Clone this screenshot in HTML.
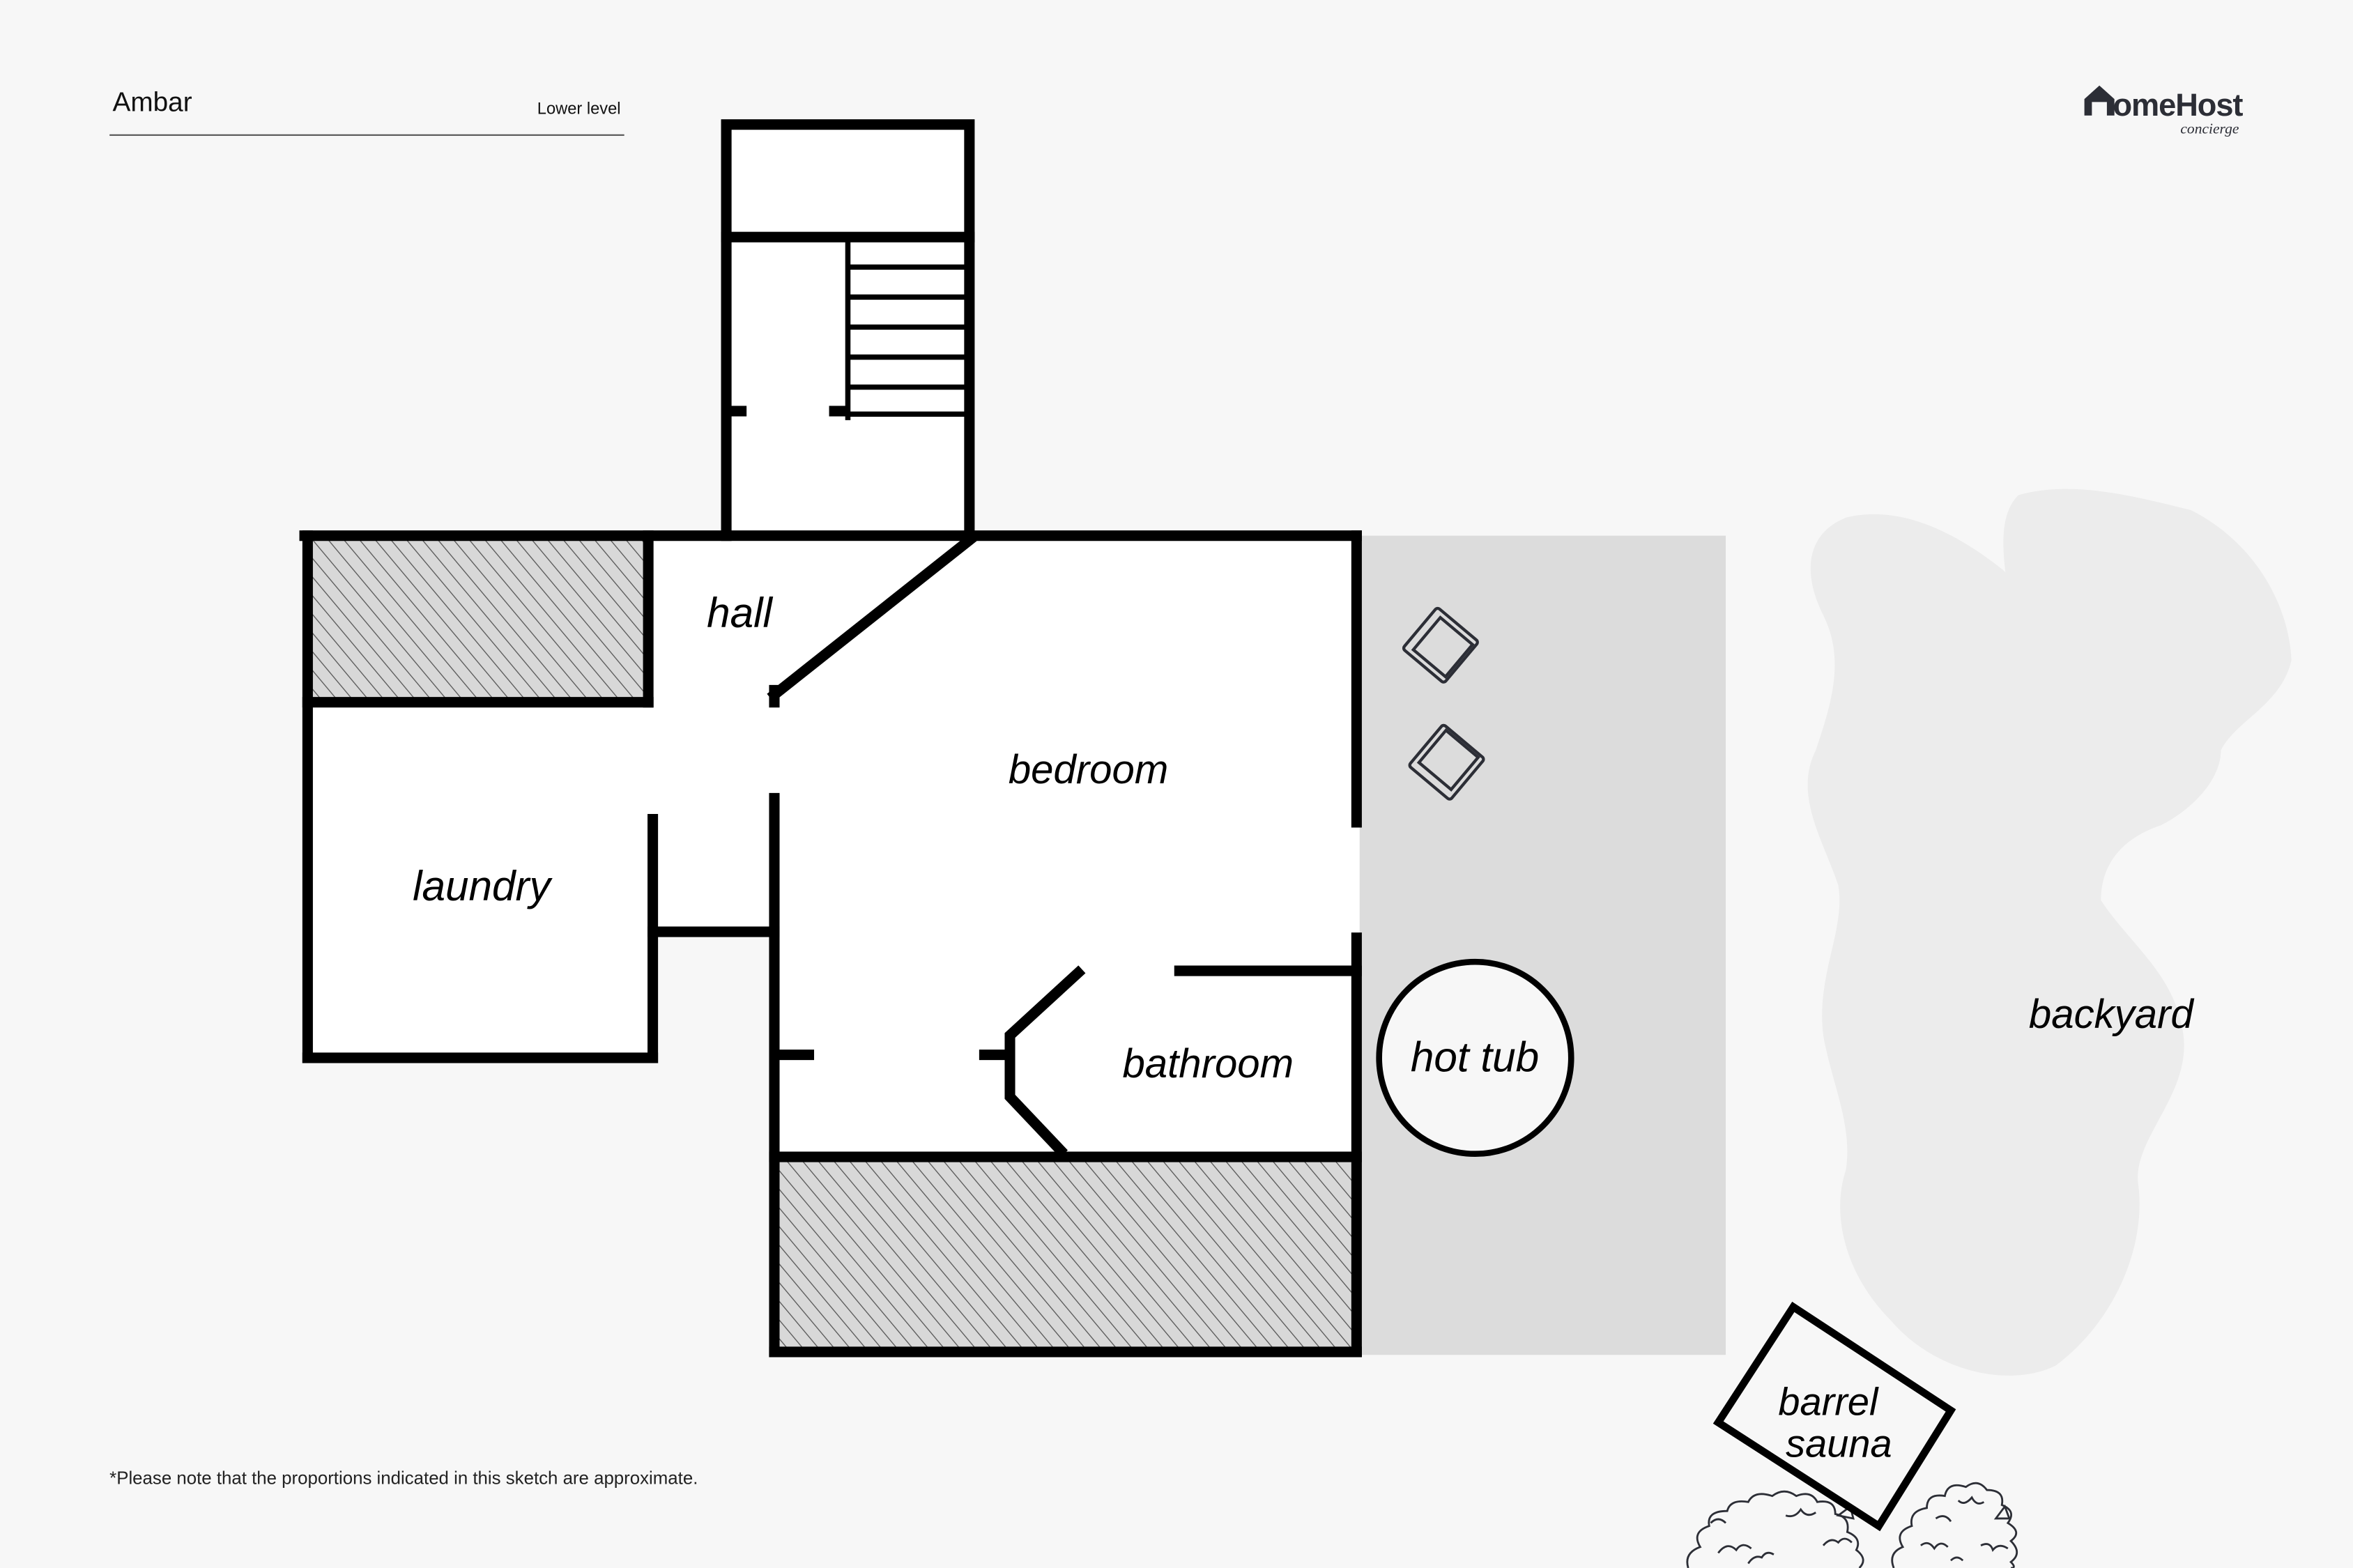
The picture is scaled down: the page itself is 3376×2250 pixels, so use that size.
<!DOCTYPE html>
<html><head><meta charset="utf-8"><style>
html,body{margin:0;padding:0;background:#f7f7f7;}
svg{display:block}
.hw{font-family:"Liberation Sans",sans-serif;font-style:italic;fill:#000;}
</style></head><body>
<svg width="3376" height="2250" viewBox="0 0 1568 1045" preserveAspectRatio="none" xmlns="http://www.w3.org/2000/svg">
<defs>
<pattern id="hatch" patternUnits="userSpaceOnUse" width="8" height="8" patternTransform="rotate(-40)">
<rect width="8" height="8" fill="#d8d8d8"/>
<line x1="0" y1="0" x2="0" y2="8" stroke="#555" stroke-width="1.2"/>
</pattern>
</defs>
<rect width="1568" height="1045" fill="#f7f7f7"/>
<text x="75" y="74" font-family="Liberation Sans,sans-serif" font-size="18" fill="#111">Ambar</text>
<text x="358" y="76" font-family="Liberation Sans,sans-serif" font-size="11" fill="#111">Lower level</text>
<line x1="73" y1="90" x2="416" y2="90" stroke="#555" stroke-width="1"/>
<text x="73" y="989" font-family="Liberation Sans,sans-serif" font-size="12" fill="#222">*Please note that the proportions indicated in this sketch are approximate.</text>
<path d="M1389 66 L1399 57 L1409 66 L1409 77 L1404 77 L1404 68 L1394 68 L1394 77 L1389 77 Z" fill="#2c2e36"/>
<text x="1408" y="77" font-family="Liberation Sans,sans-serif" font-size="21" font-weight="bold" fill="#2c2e36" letter-spacing="-0.5">omeHost</text>
<text x="1453" y="89" font-family="Liberation Serif,serif" font-style="italic" font-size="10" fill="#2c2e36">concierge</text>
<path d="M1345 330 C1380 320 1420 330 1460 340 C1500 360 1525 400 1527 440 C1520 470 1490 480 1480 500 C1480 520 1460 540 1440 550 C1410 560 1400 580 1400 600 C1420 630 1450 650 1455 690 C1460 730 1420 760 1425 790 C1430 830 1410 880 1370 910 C1340 925 1290 915 1260 880 C1230 850 1220 810 1230 780 C1235 750 1220 720 1215 690 C1210 650 1230 620 1225 590 C1215 560 1195 530 1210 500 C1220 470 1230 440 1215 410 C1200 380 1205 355 1230 345 C1270 335 1310 360 1335 380 C1345 390 1340 400 1340 405 C1335 375 1330 345 1345 330 Z" fill="#ececec"/>
<rect x="906" y="357" width="244" height="546" fill="#dcdcdc"/>
<path d="M484 82 H646 V357 H906 V903 H516 V621 H435 V705 H205 V357 H484 Z" fill="#fff"/>
<rect x="205" y="357" width="227" height="111" fill="url(#hatch)"/>
<rect x="516" y="771" width="388" height="131" fill="url(#hatch)"/>
<g stroke="#000" stroke-width="7" fill="none" stroke-linecap="square">
<rect x="484" y="83" width="162" height="274"/>
<line x1="484" y1="158" x2="646" y2="158"/>
<line x1="203" y1="357" x2="484" y2="357"/>
<line x1="205" y1="357" x2="205" y2="705"/>
<line x1="205" y1="705" x2="435" y2="705"/>
<line x1="435" y1="546" x2="435" y2="705"/>
<line x1="432" y1="357" x2="432" y2="468"/>
<line x1="205" y1="468" x2="432" y2="468"/>
<line x1="435" y1="621" x2="516" y2="621"/>
<line x1="516" y1="532" x2="516" y2="901"/>
<line x1="516" y1="460" x2="516" y2="468"/>
<line x1="516" y1="463" x2="646" y2="360"/>
<line x1="646" y1="357" x2="904" y2="357"/>
<line x1="904" y1="357" x2="904" y2="548"/>
<line x1="904" y1="625" x2="904" y2="901"/>
<line x1="516" y1="901" x2="904" y2="901"/>
<line x1="516" y1="771" x2="904" y2="771"/>
<line x1="786" y1="647" x2="904" y2="647"/>
<polyline points="721,646 673,690 673,731 709,769" stroke-linecap="butt"/>
<line x1="519" y1="703" x2="539" y2="703"/>
<line x1="656" y1="703" x2="672" y2="703"/>
<line x1="488" y1="274" x2="494" y2="274"/>
<line x1="556" y1="274" x2="563" y2="274"/>
</g>
<g stroke="#000" stroke-width="3.5">
<line x1="565" y1="160" x2="565" y2="280"/>
<line x1="565" y1="178" x2="644" y2="178"/>
<line x1="565" y1="198" x2="644" y2="198"/>
<line x1="565" y1="218" x2="644" y2="218"/>
<line x1="565" y1="238" x2="644" y2="238"/>
<line x1="565" y1="258" x2="644" y2="258"/>
<line x1="565" y1="276" x2="644" y2="276"/>
</g>
<g stroke="#2c2e36" stroke-width="2" fill="none">
<g transform="translate(960,430) rotate(40)"><rect x="-18" y="-18" width="36" height="36" rx="2"/><rect x="-12" y="-14" width="28" height="28"/></g>
<g transform="translate(964,508) rotate(-50)"><rect x="-18" y="-18" width="36" height="36" rx="2"/><rect x="-12" y="-14" width="28" height="28"/></g>
</g>
<circle cx="983" cy="705" r="64" fill="#f7f7f7" stroke="#000" stroke-width="4"/>
<g stroke="#2c2e36" stroke-width="1.3" fill="none">
<path d="M1125 1045 q-3 -10 8 -14 q-6 -10 6 -14 q-2 -10 12 -10 q2 -8 14 -6 q4 -8 16 -4 q8 -6 16 0 q10 -4 14 4 q12 -2 12 8 q10 2 8 12 q10 4 6 12 q8 6 2 12"/>
<path d="M1145 1035 q6 -8 12 -2 q4 -6 10 -1 M1190 1010 q6 2 10 -4 q4 6 10 2 M1165 1042 q4 -6 9 -4 q3 -5 8 -2 M1215 1030 q5 -6 10 -2 q4 -5 9 0 M1140 1015 q5 -5 10 0 M1225 1010 l8 -6 l2 8 z"/>
<path d="M1262 1045 q-4 -10 6 -14 q-6 -10 6 -14 q-2 -10 10 -12 q0 -10 12 -8 q2 -10 14 -6 q8 -6 14 2 q12 0 10 10 q10 4 4 12 q10 6 2 12 q8 8 0 14 q4 4 0 4"/>
<path d="M1280 1030 q5 -4 9 2 q4 -6 9 -1 M1305 1000 q4 4 9 -2 q3 6 8 3 M1320 1030 q6 -3 8 3 q4 -5 10 -1 M1290 1012 q6 -4 10 2 M1330 1012 l6 -8 l3 8 z M1300 1040 q4 -4 8 0"/>
</g>
<polygon points="1195,871 1300,940 1252,1017 1145,948" fill="#f7f7f7" stroke="#000" stroke-width="5"/>
<text class="hw" x="471" y="418" font-size="28">hall</text>
<text class="hw" x="672" y="522" font-size="27">bedroom</text>
<text class="hw" x="275" y="600" font-size="28">laundry</text>
<text class="hw" x="748" y="718" font-size="27">bathroom</text>
<text class="hw" x="940" y="714" font-size="28">hot tub</text>
<text class="hw" x="1352" y="685" font-size="27">backyard</text>
<text class="hw" x="1185" y="943" font-size="26">barrel</text>
<text class="hw" x="1190" y="971" font-size="26">sauna</text>
</svg>
</body></html>
